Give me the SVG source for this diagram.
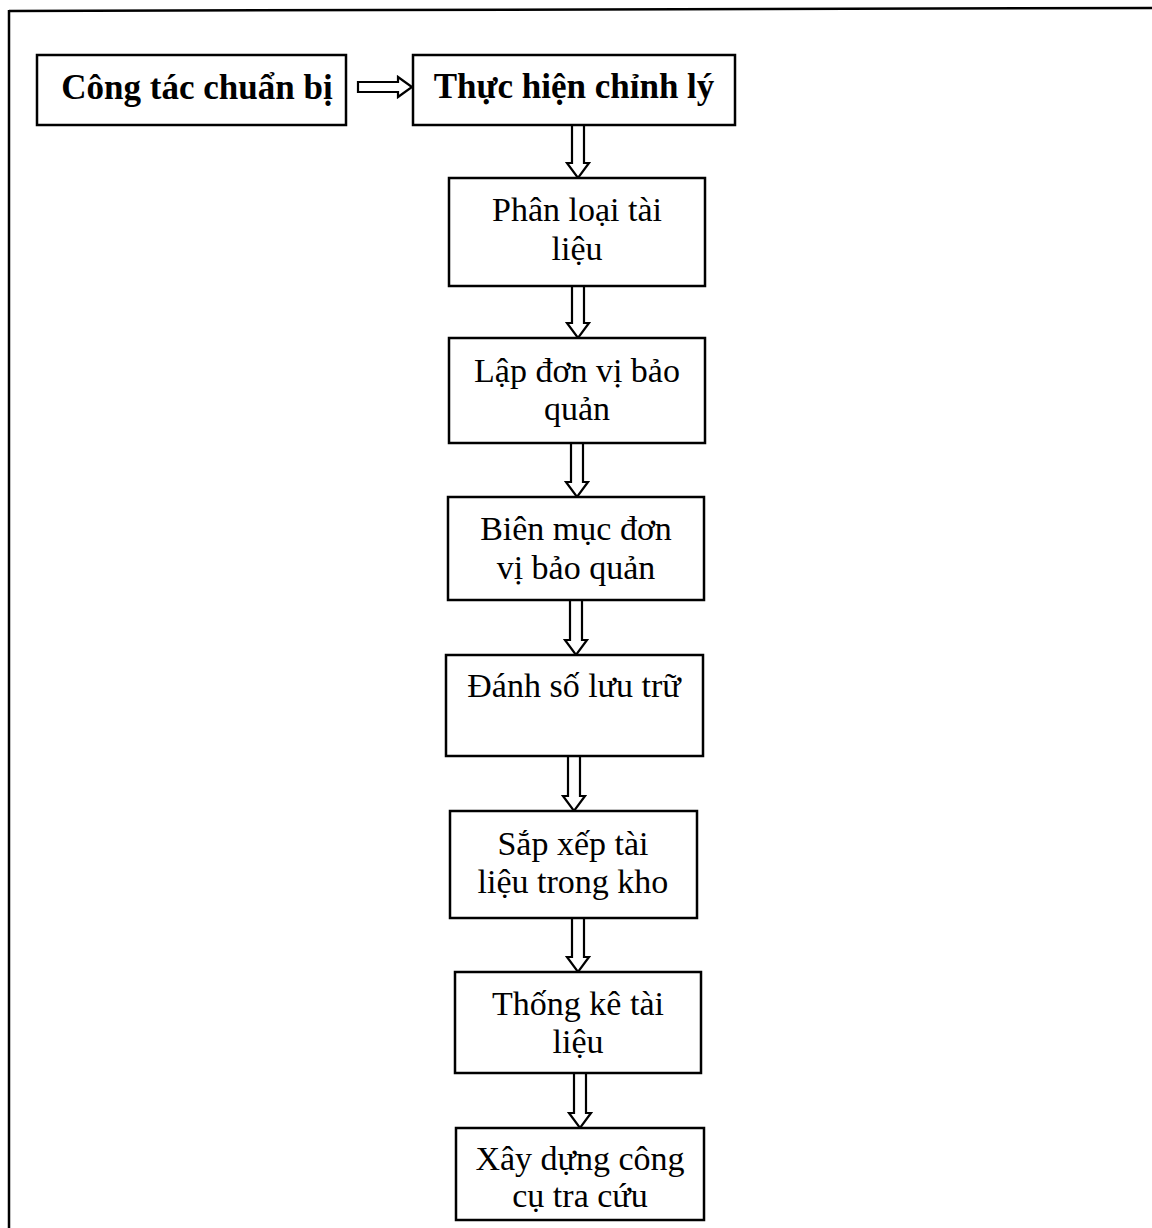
<svg xmlns="http://www.w3.org/2000/svg" width="1152" height="1228" viewBox="0 0 1152 1228">
<style>
.box{fill:#fff;stroke:#000;stroke-width:2.5}
.arr{fill:#fff;stroke:#000;stroke-width:2.2;stroke-linejoin:miter}
.t{font-family:"Liberation Serif","Times New Roman",serif;font-size:34px;fill:#000;text-anchor:middle}
.b{font-weight:bold;font-size:35px}
</style>
<rect width="1152" height="1228" fill="#fff"/>
<g id="frame">
<line x1="9" y1="11" x2="1152" y2="8" stroke="#000" stroke-width="2.5"/>
<line x1="9" y1="10" x2="9" y2="1228" stroke="#000" stroke-width="2.5"/>
</g>
<g id="connectors">
<polygon class="arr" points="358,82 398,82 398,77 412,87 398,97 398,92 358,92"/>
<polygon class="arr" points="572,125 584,125 584,163 589,163 578,178 567,163 572,163"/>
<polygon class="arr" points="572,286 584,286 584,323 589,323 578,338 567,323 572,323"/>
<polygon class="arr" points="571,443 583,443 583,482 588,482 577,497 566,482 571,482"/>
<polygon class="arr" points="570,600 582,600 582,640 587,640 576,655 565,640 570,640"/>
<polygon class="arr" points="568,756 580,756 580,796 585,796 574,811 563,796 568,796"/>
<polygon class="arr" points="572,918 584,918 584,957 589,957 578,972 567,957 572,957"/>
<polygon class="arr" points="574,1073 586,1073 586,1113 591,1113 580,1128 569,1113 574,1113"/>
</g>
<g id="n1"><rect class="box" x="37" y="55" width="309" height="70"/><text class="t b" x="197" y="99">Công tác chuẩn bị</text></g>
<g id="n2"><rect class="box" x="413" y="55" width="322" height="70"/><text class="t b" x="574" y="98">Thực hiện chỉnh lý</text></g>
<g id="n3"><rect class="box" x="449" y="178" width="256" height="108"/><text class="t" x="577" y="221">Phân loại tài</text><text class="t" x="577" y="260">liệu</text></g>
<g id="n4"><rect class="box" x="449" y="338" width="256" height="105"/><text class="t" x="577" y="382">Lập đơn vị bảo</text><text class="t" x="577" y="420">quản</text></g>
<g id="n5"><rect class="box" x="448" y="497" width="256" height="103"/><text class="t" x="576" y="540">Biên mục đơn</text><text class="t" x="576" y="579">vị bảo quản</text></g>
<g id="n6"><rect class="box" x="446" y="655" width="257" height="101"/><text class="t" x="574" y="697">Đánh số lưu trữ</text></g>
<g id="n7"><rect class="box" x="450" y="811" width="247" height="107"/><text class="t" x="573" y="855">Sắp xếp tài</text><text class="t" x="573" y="893">liệu trong kho</text></g>
<g id="n8"><rect class="box" x="455" y="972" width="246" height="101"/><text class="t" x="578" y="1015">Thống kê tài</text><text class="t" x="578" y="1053">liệu</text></g>
<g id="n9"><rect class="box" x="456" y="1128" width="248" height="92"/><text class="t" x="580" y="1170">Xây dựng công</text><text class="t" x="580" y="1207">cụ tra cứu</text></g>
</svg>
